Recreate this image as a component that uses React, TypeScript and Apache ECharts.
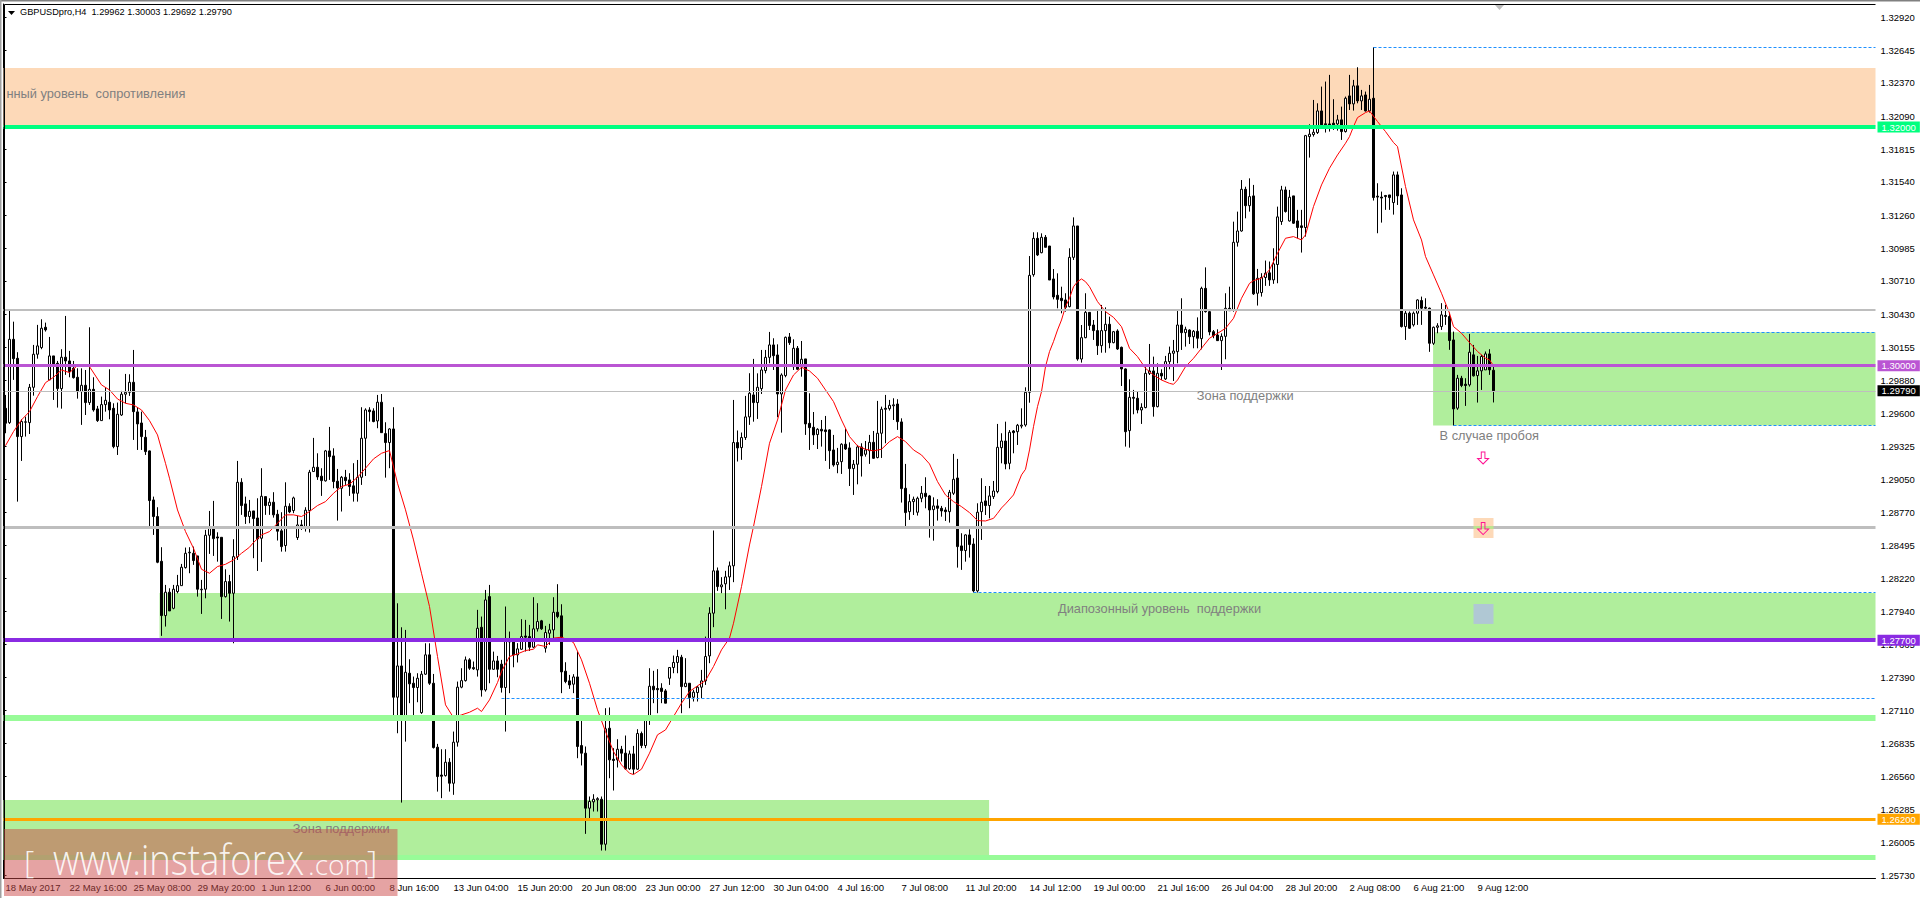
import React, { useEffect, useRef } from "react";
import * as echarts from "echarts";

// Candles: [open, close, low, high] in 1/100000 of a price unit.
const candlesMay = [
[129643,129518,129434,129755],[129523,130221,129512,130467],[130221,130059,129881,130369],[130062,129406,128861,130113],[129406,129532,129202,129551],[129526,129530,129406,129573],[129523,129819,129428,129847],[129819,130096,129749,130174],[130096,130166,130059,130342],[130152,130314,130138,130389],
[130322,130300,130286,130361],[129881,130082,129881,130241],[130082,130015,129713,130082],[130020,129808,129649,130040],[129808,130071,129640,130138],[130071,130040,129923,130417],[130040,129951,129903,130124],[129978,129900,129892,130040],[129903,129783,129724,129978],[129783,129836,129504,129978],
[129836,129691,129587,129964],[129691,129802,129671,130322],[129802,129629,129615,129903],[129638,129540,129529,129663],[129540,129674,129540,129741],[129674,129710,129615,129819],[129694,129629,129551,129970],[129643,129322,129308,129685],[129322,129593,129252,129691],[129587,129761,129579,129789],
[129761,129777,129685,129931],[129777,129861,129747,129928],[129861,129615,129378,130132],[129613,129512,129294,129652],[129520,129406,129294,129615],[129400,129280,129252,129462],[129286,128870,128652,129289],[128875,128736,128582,128903],[128736,128353,128345,128814],[128361,127906,127736,128479],
[127906,128102,127814,128163],[128102,127945,127945,128135],[127967,128127,127959,128163],[128107,128157,128093,128247],[128157,128311,128157,128339],[128308,128428,128300,128476],[128432,128437,128261,128479],[128428,128367,128331,128484],[128406,128127,128065,128406],[128122,128127,127920,128205],
[128127,128579,128051,128624],[128579,128638,128423,128783],[128646,128551,128406,128867],[128565,128556,128358,128604],[128562,128065,127878,128562],[128065,128191,128057,128294],[128191,128093,127856,128247],[128093,128400,127674,128546],[128400,129023,128372,129202],[129023,128828,128750,129057],
[128842,128736,128674,128903],[128736,128780,128680,128875],
];
const candlesJune = [
[128783,128719,128387,128783],[128724,128549,128280,128889],[128554,128906,128356,129141],[128903,128828,128750,128903],[128828,128856,128750,128889],[128856,128750,128727,128940],[128755,128613,128535,128792],[128616,128484,128442,128772],[128493,128822,128442,129023],[128822,128775,128764,128847],
[128786,128892,128764,128903],[128560,128666,128540,128741],[128666,128643,128624,128708],[128643,128789,128610,128814],[128786,129107,128602,129127],[129113,129149,129113,129395],[129149,129068,129043,129266],[129074,129037,128909,129141],[129035,129286,129029,129294],[129286,129238,129043,129487],
[129244,129029,128973,129308],[129032,128976,128702,129135],[128973,129065,128778,129076],[129065,129037,129001,129127],[129043,128987,128909,129099],[128993,128931,128861,129183],[128931,129065,128861,129210],[129065,129392,129001,129652],[129392,129629,129076,129643],[129629,129615,129532,129652],
[129621,129532,129526,129643],[129537,129694,129476,129755],[129694,129439,129439,129763],[129431,129356,129062,129526],[129356,129470,129141,129476],[129470,127222,127026,129652],[127222,127484,126920,128009],[127484,127051,126339,127808],[127051,127431,126850,127786],[127423,127334,127172,127540],
[127339,127303,127051,127395],[127303,127381,127180,127423],[127093,127415,127082,127442],[127415,127577,127409,127674],[127577,127339,127325,127674],[127339,126800,126792,127417],[126803,126557,126431,126831],[126570,126560,126376,126786],[126565,126677,126557,126786],[126677,126501,126431,126711],
[126501,126845,126404,126934],[126845,127306,126808,127353],[127306,127361,127297,127465],[127361,127535,127353,127563],[127535,127465,127451,127549],[127470,127460,127451,127521],[127451,127800,127395,127954],[127808,127283,127227,127898],[127283,128037,127269,128121],[128065,127456,127339,128163],
[127456,127526,127451,127604],[127526,127456,127389,127568],
];
const candlesLateJune = [
[127499,127303,127261,127535],[127303,127689,126934,127982],[127693,127685,127256,127772],[127689,127577,127473,127697],[127577,127627,127513,127675],[127624,127730,127619,127876],[127735,127725,127605,127870],[127730,127641,127610,127828],[127641,127795,127633,128060],[127795,127856,127772,128010],
[127862,127795,127786,127870],[127633,127764,127596,127820],[127758,127786,127661,127837],[127786,127934,127689,128060],[127934,127898,127884,128169],[127904,127434,127256,128001],[127440,127353,127339,127515],[127359,127325,127292,127409],[127331,127392,127256,127415],[127392,126809,126711,127605],
[126817,126753,126650,127052],[126753,126292,126077,126809],[126292,126348,126189,126390],[126345,126367,126264,126409],[126362,126372,126264,126384],[126367,125990,125937,126390],[125990,126957,125937,127130],[126962,126697,126543,127136],[126702,126692,126440,126795],[126697,126786,126633,126870],
[126786,126753,126683,126814],[126753,126622,126613,126901],[126622,126747,126613,126775],[126747,126619,126577,126814],[126619,126918,126613,126954],[126918,126817,126795,126934],[126817,127052,126795,127066],[127046,127314,126990,127465],[127314,127284,127172,127443],[127295,127285,127088,127457],
[127298,127270,127172,127339],[127275,127172,127172,127290],[127381,127471,127325,127471],[127471,127513,127423,127571],[127513,127563,127423,127619],[127557,127311,127088,127577],[127311,127339,127306,127549],[127339,127219,127130,127339],[127222,127264,127186,127284],[127261,127306,127186,127317],
[127306,127359,127214,127451],[127359,127563,127325,127730],[127568,127926,127507,127976],[127926,128281,127809,128619],[128281,128149,128113,128309],[128147,128163,128094,128228],[128172,128230,127959,128281],[128230,128323,128121,128359],[128323,129356,128186,129713],[129356,129311,129197,129457],
[129314,129398,129211,129440],[129398,129571,129378,129747],[129571,129769,129504,129937],
];
const candlesJuly = [
[129755,129691,129531,130057],[129691,129819,129554,129936],[129808,129964,129763,130132],[129959,130070,129936,130132],[130070,130174,130020,130283],[130174,130084,129964,130230],[130090,129763,129568,130179],[129763,129922,129439,129936],[129917,130238,129903,130244],[130241,130193,130174,130274],
[129992,130146,129964,130221],[130146,129970,129964,130165],[129992,130054,129908,130207],[130057,129512,129420,130057],[129517,129481,129294,129769],[129484,129420,129336,129612],[129423,129467,129302,129476],[129467,129453,129322,129545],[129462,129448,129202,129579],[129462,129288,129135,129467],
[129294,129168,129154,129420],[129171,129191,129099,129311],[129196,129342,129093,129350],[129342,129302,129294,129470],[129311,129138,128992,129358],[129138,129174,128917,129210],[129174,129319,129006,129336],[129319,129244,129071,129350],[129258,129294,129238,129369],[129288,129358,129177,129420],
[129358,129224,129219,129453],[129230,129434,129224,129705],[129434,129635,129227,129657],[129643,129635,129350,129755],[129640,129668,129624,129713],[129664,129672,129545,129727],[129679,129531,129462,129719],[129529,128970,128853,129559],[128973,128769,128652,129177],[128777,128861,128708,128923],
[128861,128881,128749,128903],[128772,128889,128744,128903],[128889,128931,128856,128992],[128931,128903,128805,129065],[128909,128791,128559,128917],[128794,128825,128534,128897],[128825,128805,128702,128881],[128805,128783,128735,128825],[128791,128777,128699,128814],[128777,128939,128685,128959],
[128931,129048,128917,129261],[129059,128484,128308,129219],[128490,128451,128289,128596],[128451,128582,128358,128587],[128582,128501,128392,128629],[128506,128113,128099,128554],[128113,128772,128099,128847],[128777,128856,128540,129057],[128867,128828,128749,128992],[128828,128909,128721,128992],
[128903,128950,128883,129034],[128945,129316,128931,129512],
];
const candlesMidJuly = [
[129313,129369,129182,129434],[129369,129177,129132,129531],[129182,129442,129132,129461],[129453,129439,129266,129461],[129447,129501,129336,129512],[129494,129502,129475,129643],[129503,129777,129489,129819],[129777,130757,129690,130919],[130763,131067,130746,131118],[131067,130928,130919,131118],
[130947,131076,130942,131109],[131076,130992,130992,131095],[131003,130718,130718,131003],[130727,130576,130556,130810],[130590,130556,130481,130774],[130565,130545,130439,130662],[130551,130489,130453,130607],[130495,130908,130489,130984],[130908,131171,130886,131243],[131171,130056,130042,131171],
[130056,130235,130026,130341],[130235,130447,130230,130607],[130447,130336,130299,130447],[130341,130294,130216,130383],[130294,130168,130090,130467],[130168,130294,130109,130509],[130294,130347,130109,130489],[130347,130193,130146,130411],[130193,130285,130188,130291],[130291,130140,130132,130305],
[130154,129973,129830,130160],[129973,129447,129322,129978],[129456,129735,129313,129886],[129735,129727,129593,129797],[129727,129629,129601,129783],[129629,129651,129512,129685],[129649,129936,129643,129992],[129936,129956,129922,130182],[129956,129657,129573,130076],[129657,129936,129651,130020],
[129936,129914,129880,129970],[129889,130034,129880,130082],[130034,130104,129970,130160],[130104,130123,129872,130216],[130118,130341,130020,130473],[130341,130277,130132,130565],[130277,130305,130160,130327],[130299,130243,130182,130305],[130243,130288,130146,130299],[130288,130230,130146,130405],
[130227,130648,130137,130662],[130648,130453,130445,130824],[130453,130283,130255,130459],[130285,130252,130230,130299],[130257,130210,130207,130305],[130210,130246,129964,130271],[130246,130481,130054,130607],[130481,130461,130461,130662],[130467,131034,130453,131207],[131034,131129,130998,131291],
[131129,131478,131123,131556],[131478,131341,131235,131500],[131341,131417,131291,131570],
];
const candlesAugust = [
[131423,130602,130593,131515],[130607,130733,130504,130811],[130613,130739,130579,130775],[130739,130775,130669,130881],[130778,130719,130669,130873],[130719,130853,130686,130984],[130848,131247,130691,131333],[131208,131473,131180,131507],[131473,131292,131283,131501],[131213,131412,131208,131473],
[131423,131194,131188,131423],[131213,131158,131068,131306],[131172,131158,130948,131306],[131158,131928,131082,131934],[131920,131940,131744,132023],[131937,131956,131920,132227],[131954,132135,131942,132199],[132135,132018,132009,132339],[132027,132019,131954,132381],[132026,132018,131962,132437],
[132032,132018,131976,132233],[132026,132060,131970,132102],[132060,131962,131892,132171],[131962,132241,131954,132255],[132261,132194,132143,132437],[132194,132345,132138,132395],[132345,132219,132199,132501],[132219,132261,132143,132311],[132269,132135,132130,132297],[132135,132233,132121,132353],
[132241,131409,131384,132669],[131421,131413,131110,131529],[131413,131405,131199,131459],[131426,131417,131306,131431],[131431,131409,131306,131431],[131367,131599,131266,131627],[131599,131423,131347,131627],[131431,130328,130320,131487],[130328,130440,130216,130468],[130440,130314,130308,130454],
[130342,130440,130328,130454],[130440,130551,130342,130557],[130546,130482,130342,130579],[130490,130482,130473,130565],[130482,130188,130116,130487],[130188,130322,130174,130328],[130322,130334,130272,130356],[130328,130426,130300,130524],[130421,130413,130342,130510],[130412,130211,130133,130445],
[130216,129638,129498,130286],[129644,129895,129630,129923],[129895,129834,129820,129915],[129845,129834,129663,129895],[129839,130113,129825,130267],[130091,129915,129909,130174],[129917,129957,129691,130082],[129957,130077,129797,130091],[129965,130099,129965,130119],[130099,129965,129923,130138],
[129962,129790,129692,130003],
];

// Moving average, read at these bars: [bar, value in 1/100000].
const maMay = [[0,129330],[2,129448],[4,129546],[6,129615],[8,129741],[10,129858],[12,129903],[14,129964],[16,129942],[18,130001],[19,130009],[21,129992],[24,129839],[26,129797],[28,129721],[30,129685],[32,129671],[34,129629],[36,129540],[38,129420],[40,129182],[41,129057],[43,128791],[45,128610],[47,128470],[49,128294],[51,128261],[53,128317],[55,128336],[57,128372],[59,128428],[61,128479]];
const maJune = [[62,128518],[64,128582],[66,128610],[68,128680],[70,128750],[72,128750],[74,128736],[76,128778],[78,128828],[80,128861],[82,128931],[84,128987],[86,129007],[88,129065],[90,129141],[92,129219],[94,129266],[96,129289],[98,129015],[100,128792],[102,128540],[104,128261],[106,127982],[108,127563],[110,127158],[112,127051],[114,127074],[116,127096],[118,127130],[119,127102],[121,127200],[123,127345]];
const maLateJune = [[124,127437],[126,127563],[128,127585],[130,127613],[132,127624],[133,127661],[135,127647],[137,127717],[139,127725],[141,127697],[142,127680],[144,127535],[146,127339],[148,127116],[150,126934],[152,126767],[154,126655],[156,126585],[157,126574],[159,126619],[161,126753],[163,126907],[165,126948],[167,127060],[169,127172],[171,127270],[173,127317],[175,127362],[177,127479],[179,127619],[181,127717],[182,127842],[184,128149],[186,128498]];
const maJuly = [[187,128652],[189,128987],[191,129350],[193,129545],[195,129797],[197,129922],[199,129987],[201,129956],[203,129895],[205,129797],[207,129699],[209,129545],[211,129406],[213,129328],[215,129300],[217,129286],[219,129300],[221,129364],[223,129406],[225,129364],[227,129294],[229,129252],[231,129177],[233,129029],[235,128917],[237,128861],[239,128819],[241,128769],[243,128702],[245,128699],[247,128721],[248,128763]];
const maMidJuly = [[249,128808],[250,128842],[252,128917],[254,129085],[255,129132],[256,129294],[257,129489],[258,129657],[259,129783],[260,129992],[261,130118],[262,130202],[263,130299],[264,130383],[265,130495],[266,130565],[267,130662],[268,130704],[269,130727],[270,130704],[271,130662],[273,130537],[275,130453],[277,130405],[279,130327],[281,130146],[283,130076],[285,129978],[287,129922],[289,129880],[291,129852],[292,129844],[293,129880],[295,129992],[297,130062],[299,130146],[301,130230],[303,130271],[305,130313],[307,130397],[309,130565],[311,130690]];
const maAugust = [[312,130713],[314,130733],[316,130803],[318,130942],[320,131068],[322,131082],[324,131054],[325,131096],[327,131334],[329,131515],[331,131655],[333,131766],[335,131864],[336,131920],[337,132004],[338,132079],[340,132121],[341,132135],[343,132046],[345,131962],[347,131870],[348,131836],[350,131501],[352,131222],[354,131054],[355,130915],[357,130761],[359,130607],[361,130440],[362,130328],[364,130272],[366,130194],[368,130119],[370,130063],[371,130049],[372,130000]];

const dateLabels = ["18 May 2017","22 May 16:00","25 May 08:00","29 May 20:00","1 Jun 12:00","6 Jun 00:00","8 Jun 16:00","13 Jun 04:00","15 Jun 20:00","20 Jun 08:00","23 Jun 00:00","27 Jun 12:00","30 Jun 04:00","4 Jul 16:00","7 Jul 08:00","11 Jul 20:00","14 Jul 12:00","19 Jul 00:00","21 Jul 16:00","26 Jul 04:00","28 Jul 20:00","2 Aug 08:00","6 Aug 21:00","9 Aug 12:00"];
const priceTicks = [1.3292,1.32645,1.3237,1.3209,1.31815,1.3154,1.3126,1.30985,1.3071,1.3043,1.30155,1.2988,1.296,1.29325,1.2905,1.2877,1.28495,1.2822,1.2794,1.27665,1.2739,1.2711,1.26835,1.2656,1.26285,1.26005,1.2573];

const header = "GBPUSDpro,H4  1.29962 1.30003 1.29692 1.29790";
const keyLevels = [1.32, 1.3, 1.2979, 1.277, 1.262];
const plainLevels = [1.30467, 1.28646, 1.27048, 1.2588];
const zones = [
  [0, 1.32, 468, 1.32495],
  [357.4, 1.29498, 468, 1.3028],
  [39, 1.277, 468, 1.28096],
  [0, 1.259, 246.4, 1.26361],
  [367.5, 1.28556, 372.5, 1.28724],
  [367.5, 1.27836, 372.5, 1.28003],
];
const zoneColors = ["#FDD9B8", "#B0EE9C", "#B0EE9C", "#B0EE9C", "#FDD9B8", "#B0C8D4"];
const dashedLevels = [
  [342.5, 1.32665],
  [364.5, 1.3028],
  [362.5, 1.29498],
  [242.5, 1.281],
  [124.5, 1.27213],
];
const notes = [
  { text: "нный уровень  сопротивления", at: [0.6, 1.32277] },
  { text: "Зона поддержки", at: [298.2, 1.29747] },
  { text: "В случае пробоя", at: [358.9, 1.29414] },
  { text: "Диапозонный уровень  поддержки", at: [263.5, 1.27962] },
  { text: "Зона поддержки", at: [72.2, 1.26124] },
];
const arrows = [
  [369.9, 1.29227],
  [369.9, 1.28635],
];

const SLOTS = 468;
const FONT = "'Liberation Sans', Arial, sans-serif";
const MARK_FONT = "'Open Sans', sans-serif";
const toPrice = (p: number) => p / 100000;

export default function App() {
  const ref = useRef<HTMLDivElement>(null);

  useEffect(() => {
    document.body.style.margin = "0";
    const chart = echarts.init(ref.current!, null, { renderer: "svg" });

    const candles = [...candlesMay, ...candlesJune, ...candlesLateJune, ...candlesJuly, ...candlesMidJuly, ...candlesAugust];
    const ma = [...maMay, ...maJune, ...maLateJune, ...maJuly, ...maMidJuly, ...maAugust];
    const categories = Array.from({ length: SLOTS }, (_, i) => (i % 16 === 0 && dateLabels[i / 16]) || String(i));
    const labelled = (i: number) => i % 16 === 0 && i / 16 < dateLabels.length;

    const tag = (color: string, text: string) => ({
      show: true,
      position: "end",
      distance: 2,
      formatter: text,
      color: "#fff",
      backgroundColor: color,
      padding: [1, 4, 0, 4],
      fontSize: 9.5,
      fontFamily: FONT,
    });
    const keyStyles = [
      { color: "#00FF7F", width: 4 },
      { color: "#BA55D3", width: 3 },
      { color: "#BEBEBE", width: 1 },
      { color: "#8A2BE2", width: 4 },
      { color: "#FFA500", width: 3 },
    ];
    const tagColors = ["#00FF7F", "#BA55D3", "#000000", "#8A2BE2", "#FFA500"];
    const plainStyles = [
      { color: "#BEBEBE", width: 2 },
      { color: "#BEBEBE", width: 3 },
      { color: "#98FB98", width: 6 },
      { color: "#98FB98", width: 5 },
    ];

    chart.setOption({
      animation: false,
      backgroundColor: "#fff",
      grid: { left: 3.5, top: 4, width: SLOTS * 4, height: 874, containLabel: false },
      xAxis: [
        {
          type: "category",
          data: categories,
          boundaryGap: true,
          axisLine: { lineStyle: { color: "#000" } },
          axisTick: { alignWithLabel: true, length: 4, interval: (i: number) => labelled(i), lineStyle: { color: "#000" } },
          axisLabel: {
            interval: (i: number) => labelled(i),
            align: "left",
            margin: 4,
            color: "#000",
            fontSize: 9.5,
            fontFamily: FONT,
            hideOverlap: false,
          },
          splitLine: { show: false },
        },
        { type: "value", min: 0, max: SLOTS, show: false, splitLine: { show: false } },
      ],
      yAxis: {
        type: "value",
        position: "right",
        min: 1.25707,
        max: 1.33031,
        scale: true,
        axisLine: { show: true, lineStyle: { color: "#000" } },
        axisTick: { show: true, length: 3, customValues: priceTicks, lineStyle: { color: "#000" } },
        axisLabel: {
          customValues: priceTicks,
          formatter: (v: number) => v.toFixed(5),
          margin: 5,
          color: "#000",
          fontSize: 9.5,
          fontFamily: FONT,
        },
        splitLine: { show: false },
      },
      series: [
        {
          name: "zones",
          type: "line",
          xAxisIndex: 1,
          data: [],
          markArea: {
            silent: true,
            z: 1,
            data: zones.map(([x0, y0, x1, y1], i) => [
              { xAxis: x0, yAxis: y0, itemStyle: { color: zoneColors[i], opacity: 1 } },
              { xAxis: x1, yAxis: y1 },
            ]),
          },
        },
        {
          name: "GBPUSDpro",
          type: "candlestick",
          z: 2,
          barWidth: 3,
          data: candles.map((c) => c.map(toPrice)),
          itemStyle: { color: "#fff", color0: "#000", borderColor: "#000", borderColor0: "#000", borderWidth: 1 },
        },
        {
          name: "MA",
          type: "line",
          xAxisIndex: 1,
          z: 3,
          symbol: "none",
          data: ma.map(([bar, v]) => [bar + 0.5, toPrice(v)]),
          lineStyle: { color: "#FF0000", width: 1 },
        },
        {
          name: "levels",
          type: "line",
          xAxisIndex: 1,
          data: [],
          markLine: {
            silent: true,
            symbol: "none",
            precision: 5,
            z: 5,
            label: { show: false },
            data: [
              ...plainLevels.map((y, i) => ({ yAxis: y, lineStyle: { type: "solid", ...plainStyles[i], opacity: 1 } })),
              ...dashedLevels.map(([x, y]) => [
                { xAxis: x, yAxis: y, lineStyle: { type: [3, 2], color: "#1E90FF", width: 1, opacity: 1 } },
                { xAxis: SLOTS, yAxis: y },
              ]),
              [
                { xAxis: 367.5, yAxis: plainLevels[1], lineStyle: { type: "solid", color: "#BCE48E", width: 3, opacity: 1 } },
                { xAxis: 372.5, yAxis: plainLevels[1] },
              ],
              ...keyLevels.map((y, i) => ({
                yAxis: y,
                lineStyle: { type: "solid", ...keyStyles[i], opacity: 1 },
                label: tag(tagColors[i], y.toFixed(5)),
              })),
            ],
          },
          markPoint: {
            silent: true,
            z: 6,
            data: [
              ...notes.map((n) => ({
                coord: n.at,
                symbol: "circle",
                symbolSize: 1,
                itemStyle: { color: "rgba(0,0,0,0)" },
                label: {
                  show: true,
                  position: "right",
                  distance: 0,
                  formatter: n.text,
                  color: "#808080",
                  fontSize: 12.8,
                  fontFamily: FONT,
                },
              })),
              ...arrows.map((a) => ({
                coord: a,
                symbol: "path://M4 0H8V7H12L6 13L0 7H4Z",
                symbolSize: [11, 12],
                itemStyle: { color: "rgba(255,255,255,0)", borderColor: "#FF1493", borderWidth: 1 },
                label: { show: false },
              })),
            ],
          },
        },
      ],
      graphic: [
        { type: "rect", silent: true, z: 50, shape: { x: 0, y: 0, width: 1920, height: 1.5 }, style: { fill: "#808080" } },
        { type: "rect", silent: true, z: 50, shape: { x: 0, y: 0, width: 1.5, height: 898 }, style: { fill: "#A0A0A0" } },
        { type: "line", silent: true, z: 50, shape: { x1: 4.5, y1: 4.5, x2: 1875.5, y2: 4.5 }, style: { stroke: "#000", lineWidth: 1 } },
        { type: "line", silent: true, z: 50, shape: { x1: 4.5, y1: 4.5, x2: 4.5, y2: 878.5 }, style: { stroke: "#000", lineWidth: 1 } },
        { type: "polygon", silent: true, z: 50, shape: { points: [[1495, 5], [1504, 5], [1499.5, 10]] }, style: { fill: "#BEBEBE" } },
        { type: "polygon", silent: true, z: 50, shape: { points: [[8, 11], [15, 11], [11.5, 15]] }, style: { fill: "#000" } },
        { type: "text", silent: true, z: 50, x: 20, y: 7, style: { text: header, fill: "#000", fontSize: 9.2, fontFamily: FONT } },
        { type: "rect", silent: true, z: 60, shape: { x: 4, y: 829, width: 393.5, height: 67 }, style: { fill: "rgba(203,71,71,0.5)" } },
        { type: "text", silent: true, z: 61, x: 24, y: 844, style: { text: "[", fill: "#fff", opacity: 0.9, fontSize: 32, fontFamily: MARK_FONT, fontWeight: 300 } },
        { type: "text", silent: true, z: 61, x: 53, y: 837.5, scaleX: 0.87, style: { text: "www.instaforex", fill: "#fff", opacity: 0.9, fontSize: 42, fontFamily: MARK_FONT, fontWeight: 300 } },
        { type: "text", silent: true, z: 61, x: 308, y: 849.6, style: { text: ".com", fill: "#fff", opacity: 0.9, fontSize: 28, fontFamily: MARK_FONT, fontWeight: 300 } },
        { type: "text", silent: true, z: 61, x: 367, y: 844, style: { text: "]", fill: "#fff", opacity: 0.9, fontSize: 32, fontFamily: MARK_FONT, fontWeight: 300 } },
      ],
    });

    return () => chart.dispose();
  }, []);

  return <div ref={ref} style={{ position: "absolute", left: 0, top: 0, width: 1920, height: 898 }} />;
}
